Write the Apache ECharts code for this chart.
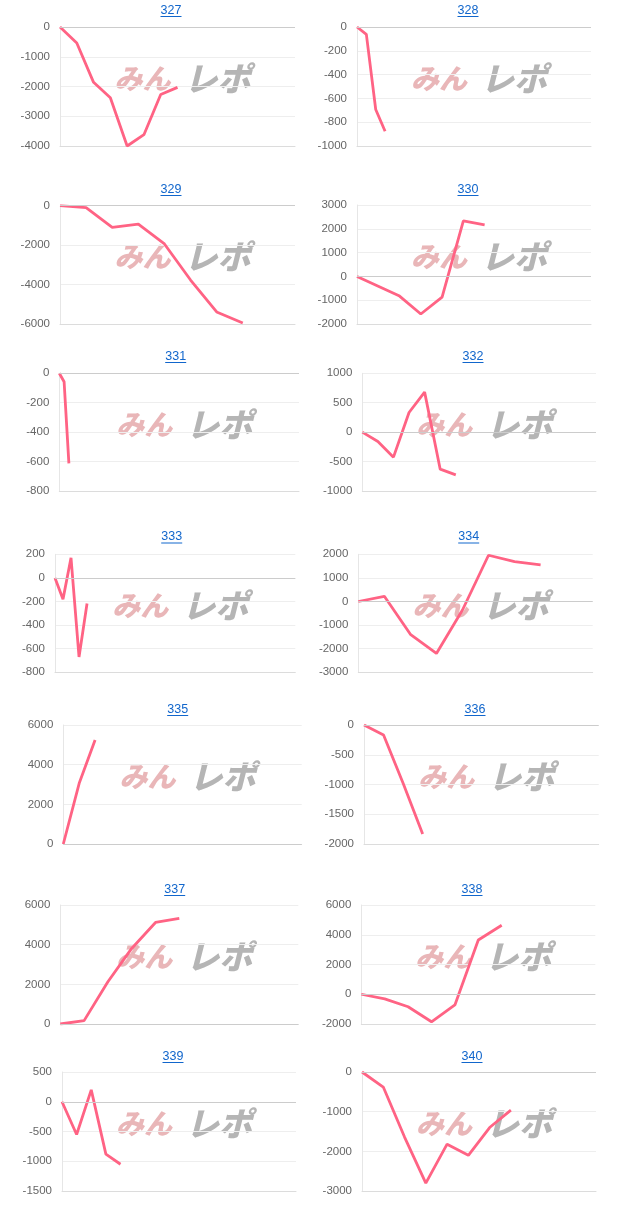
<!DOCTYPE html>
<html>
<head>
<meta charset="utf-8">
<script src="https://cdn.jsdelivr.net/npm/echarts@6/dist/echarts.min.js"></script>
<style>
	html, body { margin: 0; padding: 0; background: #fff; }
	#main { width: 624px; height: 1228px; }
</style>
</head>
<body>
<div id="main"></div>
<script>
// machine numbers (panel titles)
const machines = ['327', '328', '329', '330', '331', '332', '333', '334', '335', '336', '337', '338', '339', '340']

// difference-in-coins per data point, one array per machine
const v327 = [0, -540, -1860, -2380, -4000, -3620, -2270, -2030]
const v328 = [0, -62, -693, -876]
const v329 = [0, -100, -1100, -930, -1940, -3770, -5390, -5950]
const v330 = [0, -410, -826, -1580, -870, 2330, 2160]
const v331 = [0, -57, -612]
const v332 = [0, -160, -425, 334, 680, -629, -725]
const v333 = [0, -180, 170, -670, -217]
const v334 = [0, 220, -1390, -2200, -360, 1960, 1690, 1550]
const v335 = [0, 3060, 5240]
const v336 = [0, -168, -980, -1830]
const v337 = [0, 170, 2130, 3810, 5120, 5320]
const v338 = [0, -310, -840, -1850, -720, 3650, 4640]
const v339 = [0, -550, 200, -880, -1050]
const v340 = [0, -380, -1640, -2800, -1820, -2100, -1400, -960]
const values = [v327, v328, v329, v330, v331, v332, v333, v334, v335, v336, v337, v338, v339, v340]

// number of x categories on each panel (x labels are hidden)
const catCounts = [15, 26, 10, 12, 51, 16, 31, 10, 16, 13, 11, 11, 17, 12]

// y axis ticks
const yMin  = [-4000, -1000, -6000, -2000, -800, -1000, -800, -3000, 0, -2000, 0, -2000, -1500, -3000]
const yMax  = [0, 0, 0, 3000, 0, 1000, 200, 2000, 6000, 0, 6000, 6000, 500, 0]
const yStep = [1000, 200, 2000, 1000, 200, 500, 200, 1000, 2000, 500, 2000, 2000, 500, 1000]

// layout of each panel (plot box edges and title centre)
const plotL = [60, 357, 60, 357, 59.3, 362.3, 55, 358.3, 63.3, 364, 60.3, 361.3, 62, 362]
const plotR = [295, 591, 295, 591, 299, 596, 295.3, 592.7, 301.7, 598.7, 298.3, 595.3, 296, 596]
const plotT = [27, 27, 205.7, 205, 373.3, 373.3, 554.3, 554.3, 725, 725, 905, 905, 1072, 1072]
const plotB = [146, 146, 324, 324, 491, 491, 672.3, 672.3, 844, 844, 1024, 1024, 1191, 1191]
const titleX = [171, 468, 171, 468, 175.7, 473, 171.7, 468.7, 177.7, 475, 174.7, 472, 173, 472]
const titleY = [10.5, 10.5, 189.5, 189.5, 356.5, 356.5, 537, 537, 709.5, 709.5, 889.5, 889.5, 1056.5, 1056.5]

const LINK = '#1166cc'
const LINE = '#ff6384'
const FONT = "'Liberation Sans', Arial, sans-serif"
const MARK = "'Noto Sans CJK JP'"

const grid = [], xAxis = [], yAxis = [], series = [], graphic = []

machines.forEach((no, i) => {
	grid.push({
		left: plotL[i], top: plotT[i],
		width: plotR[i] - plotL[i], height: plotB[i] - plotT[i]
	})
	xAxis.push({
		gridIndex: i,
		type: 'category',
		boundaryGap: false,
		data: Array.from({ length: catCounts[i] }, (_, k) => String(k + 1)),
		axisLabel: { show: false },
		axisTick: { show: false },
		axisLine: { onZero: false, lineStyle: { color: '#dcdcdc', width: 1 } },
		splitLine: { show: false }
	})
	yAxis.push({
		gridIndex: i,
		type: 'value',
		min: yMin[i], max: yMax[i], interval: yStep[i],
		axisLine: { show: true, lineStyle: { color: '#e6e6e6', width: 1 } },
		axisTick: { show: false },
		splitLine: { lineStyle: { color: '#eeeeee', width: 1 } },
		axisLabel: {
			color: '#666', fontSize: 11.5, fontFamily: FONT, margin: 10,
			formatter: v => String(v)
		}
	})
	series.push({
		type: 'line',
		xAxisIndex: i, yAxisIndex: i,
		data: values[i],
		showSymbol: false,
		z: 3,
		lineStyle: { color: LINE, width: 2.8 },
		itemStyle: { color: LINE },
		markLine: {
			silent: true,
			symbol: 'none',
			label: { show: false },
			lineStyle: { color: '#cccccc', type: 'solid', width: 1 },
			data: [{ yAxis: 0 }]
		}
	})

	// title with underline
	graphic.push({
		type: 'text', x: titleX[i], y: titleY[i], z: 5,
		style: {
			text: no, fill: LINK, font: '12.5px ' + FONT,
			textAlign: 'center', textVerticalAlign: 'middle'
		}
	})
	graphic.push({
		type: 'rect', z: 5,
		shape: { x: titleX[i] - 10.5, y: titleY[i] + 5.5, width: 21, height: 1 },
		style: { fill: LINK }
	})

	// watermark
	const cx = (plotL[i] + plotR[i]) / 2 + 9
	const cy = (plotT[i] + plotB[i]) / 2 - 8
	graphic.push({
		type: 'group', x: cx, y: cy, z: 1,
		children: [
			{ type: 'text', x: -72, y: 0, style: {
				text: 'みん', fill: '#e9b6b8',
				font: 'italic 900 28px ' + MARK,
				textAlign: 'left', textVerticalAlign: 'middle'
			} },
			{ type: 'text', x: -2, y: 0, style: {
				text: 'レポ', fill: '#b5b5b5',
				font: 'italic 900 33px ' + MARK,
				textAlign: 'left', textVerticalAlign: 'middle'
			} }
		]
	})
})

const chart = echarts.init(document.getElementById('main'))
chart.setOption({
	animation: false,
	backgroundColor: '#fff',
	grid, xAxis, yAxis, series, graphic
})
</script>
</body>
</html>
